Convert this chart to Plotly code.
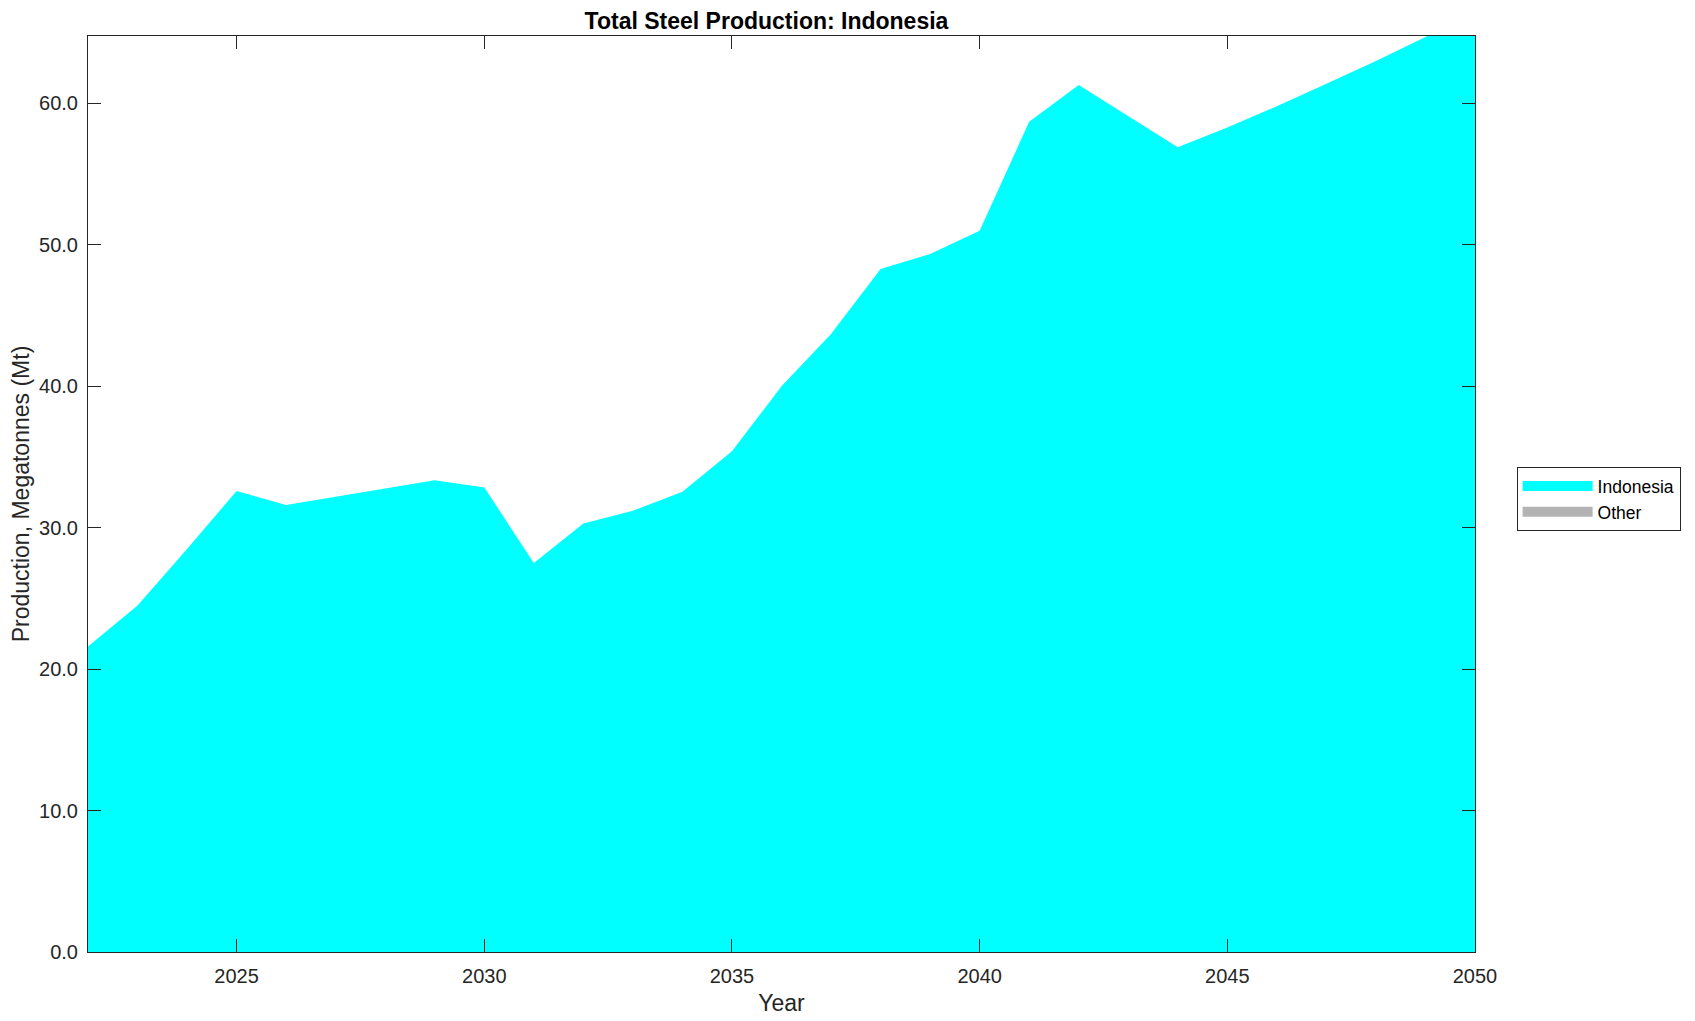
import plotly.graph_objects as go

years = list(range(2022, 2051))
indonesia = [21.6, 24.5, 28.5, 32.6, 31.6, 32.2, 32.8, 33.35, 32.85, 27.5,
             30.3, 31.2, 32.55, 35.4, 40.0, 43.7, 48.3, 49.35, 51.0, 58.7,
             61.3, 59.1, 56.9, 58.3, 59.8, 61.4, 63.0, 64.7, 66.5]
other = [0.0] * len(years)
series_names = ["Indonesia", "Other"]
series_colors = ["#00ffff", "#b3b3b3"]
x_ticks = [2025, 2030, 2035, 2040, 2045, 2050]
y_ticks = [0, 10, 20, 30, 40, 50, 60]

FONT = "Liberation Sans, Arial, Helvetica, sans-serif"
AX = "#262626"

fig = go.Figure()
for name, vals, col in zip(series_names, [indonesia, other], series_colors):
    fig.add_trace(go.Scatter(x=years, y=vals, name=name, mode="lines",
                             line=dict(width=0, color=col), fillcolor=col,
                             stackgroup="one", showlegend=False))
# legend swatches
for name, col in zip(series_names, series_colors):
    fig.add_trace(go.Scatter(x=[None], y=[None], name=name, mode="lines",
                             line=dict(width=17, color=col), showlegend=True))

axis_common = dict(showline=True, linecolor=AX, linewidth=1, mirror="ticks",
                   ticks="inside", ticklen=13, tickcolor=AX, tickwidth=1,
                   showgrid=False, zeroline=False,
                   tickfont=dict(family=FONT, size=20, color=AX))

W, H = 1687, 1013
L, T = 80, 28
PR, PB = 1467, 944.4
R = W - PR
B = H - PB

fig.update_layout(
    width=W, height=H,
    margin=dict(l=L, r=R, t=T, b=B, autoexpand=False),
    paper_bgcolor="white", plot_bgcolor="white",
    title=dict(text="<b>Total Steel Production: Indonesia</b>", x=758.5 / W,
               xanchor="center", y=1 - 13 / H, yanchor="middle",
               font=dict(family=FONT, size=23, color="black")),
    xaxis=dict(range=[2022, 2050], tickvals=x_ticks, ticklabelstandoff=6,
               title=dict(text="Year", font=dict(family=FONT, size=23, color=AX), standoff=8),
               **axis_common),
    yaxis=dict(range=[0, 64.77], tickvals=y_ticks, tickformat=".1f", ticklabelstandoff=5,
               title=dict(text="Production, Megatonnes (Mt)", font=dict(family=FONT, size=23, color=AX), standoff=8),
               **axis_common),
    legend=dict(x=1.03, y=0.5294, xanchor="left", yanchor="top",
                bordercolor=AX, borderwidth=1, bgcolor="white",
                font=dict(family=FONT, size=17.5, color="black"),
                itemwidth=70, tracegroupgap=0, traceorder="normal"),
    showlegend=True,
)

fig.write_html("out.html")
